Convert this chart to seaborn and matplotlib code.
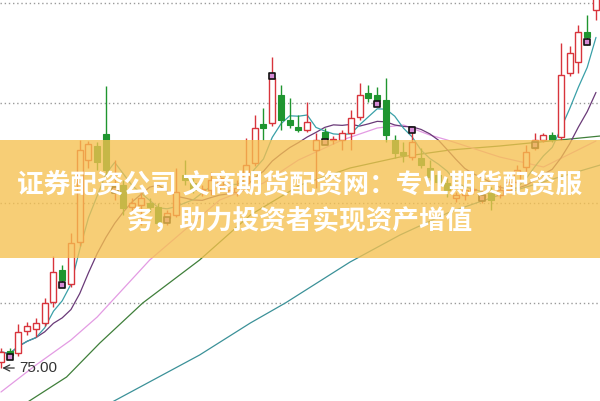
import numpy as np
import pandas as pd
import matplotlib
matplotlib.use("Agg")
import matplotlib.pyplot as plt
import seaborn as sns
from matplotlib.patches import Rectangle

# daily candles
opens = [75.30, 75.85, 75.75, 76.85, 76.95, 77.25, 78.30, 79.90, 79.20, 81.30,
         85.40, 86.10, 86.70, 84.00, 84.15, 83.05, 83.15, 83.25, 83.05, 82.50,
         82.65, 84.65, 84.25, 83.90, 83.90, 84.15, 83.90, 83.80, 84.25, 85.25,
         87.20, 87.25, 88.65, 87.40, 87.05, 86.90, 85.90, 86.80, 86.40, 86.40,
         86.75, 87.55, 88.75, 88.65, 88.40, 86.40, 85.80, 85.55, 85.50, 85.00,
         84.65, 84.25, 83.50, 83.65, 83.90, 83.55, 83.75, 83.65, 83.90, 84.30,
         85.05, 86.00, 86.40, 86.65, 86.55, 89.75, 90.30, 91.80, 92.90]
highs = [76.00, 76.00, 77.20, 77.30, 77.50, 78.50, 80.60, 80.15, 81.75, 86.40,
         86.35, 86.30, 89.10, 85.40, 84.40, 83.50, 83.90, 83.50, 83.25, 82.90,
         85.00, 85.40, 84.50, 84.15, 84.80, 84.65, 84.30, 84.40, 86.50, 87.65,
         88.00, 90.55, 89.15, 88.50, 87.65, 88.30, 86.75, 87.00, 86.60, 86.90,
         87.90, 89.25, 89.15, 89.05, 89.50, 86.65, 86.30, 87.05, 86.00, 85.40,
         84.90, 84.50, 83.80, 84.00, 84.10, 83.90, 84.05, 84.15, 84.40, 85.15,
         86.15, 86.75, 86.75, 86.80, 91.25, 91.10, 92.15, 92.65, 94.15]
lows = [75.00, 75.50, 75.60, 76.65, 76.55, 77.10, 78.05, 79.25, 79.05, 81.10,
        85.00, 84.90, 84.65, 83.40, 82.65, 82.80, 82.15, 82.80, 82.10, 82.15,
        82.55, 84.15, 83.75, 83.60, 83.65, 83.90, 83.70, 83.60, 84.10, 85.10,
        86.40, 87.10, 86.90, 87.00, 86.80, 86.80, 84.00, 86.40, 86.20, 85.90,
        85.90, 87.40, 88.30, 88.30, 86.30, 85.50, 85.30, 85.40, 85.00, 84.40,
        84.15, 83.55, 83.30, 83.40, 83.70, 83.25, 82.90, 83.50, 83.75, 84.15,
        84.80, 85.90, 86.30, 86.30, 86.40, 89.60, 89.75, 91.15, 92.40]
closes = [75.80, 75.65, 76.80, 77.10, 77.25, 78.25, 79.80, 79.40, 81.25, 85.90,
          86.20, 85.30, 84.90, 84.10, 83.00, 83.25, 83.50, 83.05, 82.25, 82.75,
          83.80, 84.40, 83.90, 83.92, 84.40, 84.50, 84.10, 84.00, 85.15, 87.00,
          87.00, 89.50, 87.40, 87.15, 86.90, 87.30, 86.40, 86.50, 86.42, 86.75,
          87.50, 88.65, 88.50, 88.40, 86.65, 85.75, 85.65, 86.30, 85.15, 84.55,
          84.30, 83.90, 83.65, 83.90, 83.95, 83.65, 83.40, 83.90, 84.30, 84.90,
          85.80, 86.40, 86.65, 86.40, 89.65, 90.75, 91.80, 91.55, 93.90]

# longer moving averages (their history starts before the window)
ma20_idx = [0, 4, 8, 11, 17, 25, 30, 34, 39, 43, 46, 49, 51, 57, 62, 68]
ma20_val = [73.80, 75.15, 76.40, 77.55, 80.40, 83.40, 84.25, 85.40, 86.40, 87.00,
            87.15, 86.65, 86.40, 85.55, 85.05, 86.35]
ma60_idx = [2.7, 7.5, 11.3, 16.2, 22.7, 28.5, 34.2, 39.9, 45.6, 51.3, 57.0, 63.9, 68.5]
ma60_val = [73.20, 74.55, 76.25, 78.25, 80.40, 82.65, 84.15, 85.00, 85.55, 85.90,
            86.10, 86.40, 86.60]
ma120_idx = [12.5, 22.7, 28.5, 32.5, 39.9, 45.6, 51.3, 57.0, 62.7, 68.5]
ma120_val = [73.25, 75.65, 77.25, 78.25, 80.30, 81.65, 82.80, 83.65, 84.40, 85.15]

# buy/sell signal squares
marker_idx = [1, 7, 13, 19, 31, 37, 43, 47, 55, 61, 67]
marker_val = [75.55, 79.15, 83.90, 82.40, 89.60, 86.30, 88.20, 86.90, 83.50, 86.15, 91.30]

grid_levels = [78.25, 83.25, 88.25, 93.25]
title_lines = ["证券配资公司 文商期货配资网：专业期货配资服", "务，助力投资者实现资产增值"]

UP = "#d8343c"
DOWN = "#1f952f"

sns.set_theme(style="white")
plt.rcParams["font.family"] = ["Noto Sans CJK SC", "DejaVu Sans"]

df = pd.DataFrame({"open": opens, "high": highs, "low": lows, "close": closes})
df["idx"] = np.arange(len(df))
df["ma5"] = df["close"].rolling(5, min_periods=1).mean()
df["ma10"] = df["close"].rolling(10, min_periods=1).mean()
df["top"] = df[["open", "close"]].max(axis=1)
df["bot"] = df[["open", "close"]].min(axis=1)
up = df[df["close"] >= df["open"]]
dn = df[df["close"] < df["open"]]

fig = plt.figure(figsize=(6, 4.01), dpi=100)
ax = fig.add_axes([0, 0, 1, 1])

for lvl in grid_levels:
    ax.axhline(lvl, color="#9a9a9a", lw=1.0, ls=(0, (1, 2)), zorder=0)

# moving averages
sns.lineplot(x=ma120_idx, y=ma120_val, ax=ax, color="#3b9198", lw=0.9, zorder=2)
sns.lineplot(x=ma60_idx, y=ma60_val, ax=ax, color="#3f7f3a", lw=0.9, zorder=2)
sns.lineplot(x=ma20_idx, y=ma20_val, ax=ax, color="#e39be3", lw=0.9, zorder=2)
sns.lineplot(data=df, x="idx", y="ma10", ax=ax, color="#6a3a78", lw=0.9, zorder=2)
sns.lineplot(data=df, x="idx", y="ma5", ax=ax, color="#3aa0a8", lw=0.9, zorder=2)

# candles
w = 0.68
ax.vlines(dn["idx"], dn["low"], dn["high"], color=DOWN, lw=1.0, zorder=3)
ax.bar(dn["idx"], dn["top"] - dn["bot"], bottom=dn["bot"], width=w,
       color=DOWN, edgecolor=DOWN, lw=0.8, zorder=4)
ax.vlines(up["idx"], up["top"], up["high"], color=UP, lw=1.0, zorder=3)
ax.vlines(up["idx"], up["low"], up["bot"], color=UP, lw=1.0, zorder=3)
ax.bar(up["idx"], (up["top"] - up["bot"]).clip(lower=0.04), bottom=up["bot"], width=w,
       facecolor="white", edgecolor=UP, lw=1.0, zorder=4)

ax.scatter(marker_idx, marker_val, marker="s", s=18, facecolor="#d58ad5",
           edgecolor="#111111", linewidths=1.2, zorder=5)

lo = int(np.argmin(lows))
ax.annotate(f"{lows[lo]:.2f}", xy=(lo + 0.15, lows[lo]), xytext=(lo + 2.05, lows[lo]),
            va="center", ha="left", fontsize=11, color="#333333", family="Liberation Sans",
            arrowprops=dict(arrowstyle="->", color="#333333", lw=0.9, shrinkA=1, shrinkB=0),
            zorder=6)

ax.set_xlim(-0.11, 68.46)
ax.set_ylim(73.35, 93.4)
ax.set_axis_off()

# headline banner
ax.add_patch(Rectangle((0, 0.357), 1, 0.294, transform=ax.transAxes,
                       facecolor="#f6c14f", alpha=0.78, lw=0, zorder=10))
ax.text(0.5, 0.539, title_lines[0], transform=ax.transAxes, ha="center", va="center",
        color="white", fontsize=19.2, fontweight="bold", zorder=11)
ax.text(0.5, 0.446, title_lines[1], transform=ax.transAxes, ha="center", va="center",
        color="white", fontsize=19.2, fontweight="bold", zorder=11)

fig.savefig("out.png", dpi=100)
